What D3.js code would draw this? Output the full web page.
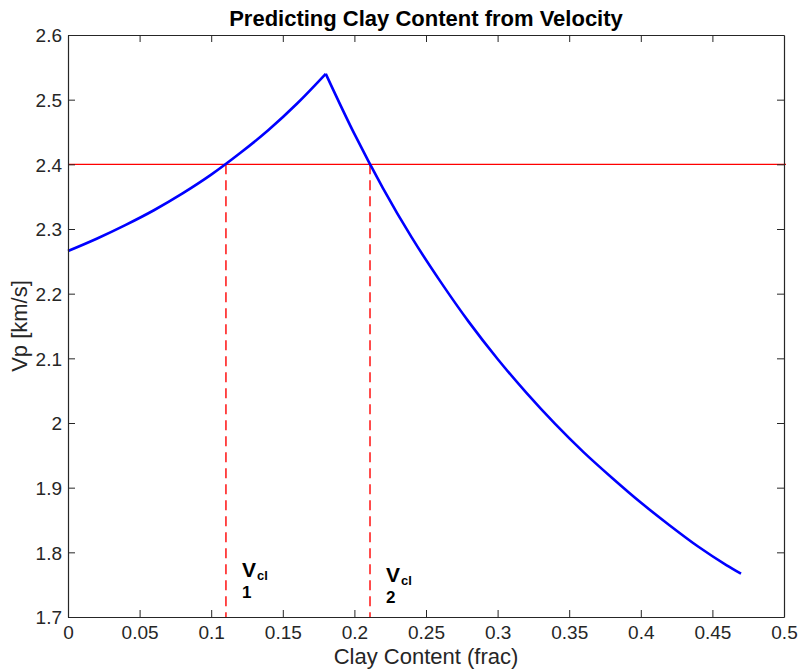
<!DOCTYPE html>
<html>
<head>
<meta charset="utf-8">
<script src="https://cdn.jsdelivr.net/npm/d3@7"></script>
<style>
  html, body { margin: 0; padding: 0; background: #fff; }
  svg { display: block; }
  text { font-family: "Liberation Sans", Arial, Helvetica, sans-serif; }
</style>
</head>
<body>
<svg id="chart" width="802" height="670"></svg>
<script>
// ---- data ----
const clayLeft = [0, 0.02, 0.04, 0.06, 0.08, 0.10, 0.12, 0.14, 0.16, 0.18];
const vpLeft   = [2.266, 2.285, 2.306, 2.329, 2.355, 2.384, 2.417, 2.453, 2.494, 2.540];
const clayRight = [0.18, 0.20, 0.22, 0.24, 0.26, 0.28, 0.30, 0.32, 0.34, 0.36, 0.38, 0.40, 0.42, 0.44, 0.46, 0.47];
const vpRight   = [2.540, 2.447, 2.363, 2.287, 2.219, 2.156, 2.099, 2.047, 1.999, 1.955, 1.915, 1.877, 1.842, 1.809, 1.780, 1.767];
const vpTarget = 2.4;
const vclValues = [0.1103, 0.2109];
const vclLabels = ["1", "2"];
const xTicks = [0, 0.05, 0.1, 0.15, 0.2, 0.25, 0.3, 0.35, 0.4, 0.45, 0.5];
const xTickLabels = ["0", "0.05", "0.1", "0.15", "0.2", "0.25", "0.3", "0.35", "0.4", "0.45", "0.5"];
const yTicks = [1.7, 1.8, 1.9, 2.0, 2.1, 2.2, 2.3, 2.4, 2.5, 2.6];
const yTickLabels = ["1.7", "1.8", "1.9", "2", "2.1", "2.2", "2.3", "2.4", "2.5", "2.6"];
const titleText = "Predicting Clay Content from Velocity";
const xLabelText = "Clay Content (frac)";
const yLabelText = "Vp [km/s]";

// ---- layout ----
const L = 68, R = 784, T = 35, B = 617;
const svg = d3.select("#chart");
const x = d3.scaleLinear().domain([0, 0.5]).range([L, R]);
const y = d3.scaleLinear().domain([1.7, 2.6]).range([B, T]);
const axisColor = "#262626";
const tickLen = 7;

// red horizontal line
svg.append("line")
  .attr("x1", x(0)).attr("x2", x(0.5) + 2)
  .attr("y1", y(vpTarget)).attr("y2", y(vpTarget))
  .attr("stroke", "#ff0000").attr("stroke-width", 1.4);

// dashed verticals
svg.selectAll("line.vcl").data(vclValues).enter().append("line")
  .attr("class", "vcl")
  .attr("x1", d => x(d)).attr("x2", d => x(d))
  .attr("y1", y(vpTarget)).attr("y2", y(1.7))
  .attr("stroke", "#ff0000").attr("stroke-width", 1.4)
  .attr("stroke-dasharray", "10,6");

// curve
const lineCurve = d3.line().x(d => x(d[0])).y(d => y(d[1])).curve(d3.curveMonotoneX);
const leftPts = clayLeft.map((c, i) => [c, vpLeft[i]]);
const rightPts = clayRight.map((c, i) => [c, vpRight[i]]);
[leftPts, rightPts].forEach(p => {
  svg.append("path").attr("d", lineCurve(p))
    .attr("fill", "none").attr("stroke", "#0000ff").attr("stroke-width", 2.6);
});

// axes (ticks inward, box)
const gB = svg.append("g").attr("transform", `translate(0,${B})`)
  .call(d3.axisBottom(x).tickValues(xTicks).tickSizeInner(-tickLen).tickSizeOuter(0)
    .tickFormat((d, i) => xTickLabels[i]));
const gT = svg.append("g").attr("transform", `translate(0,${T})`)
  .call(d3.axisTop(x).tickValues(xTicks).tickSizeInner(-tickLen).tickSizeOuter(0).tickFormat(""));
const gL = svg.append("g").attr("transform", `translate(${L},0)`)
  .call(d3.axisLeft(y).tickValues(yTicks).tickSizeInner(-tickLen).tickSizeOuter(0)
    .tickFormat((d, i) => yTickLabels[i]));
const gR = svg.append("g").attr("transform", `translate(${R},0)`)
  .call(d3.axisRight(y).tickValues(yTicks).tickSizeInner(-tickLen).tickSizeOuter(0).tickFormat(""));

[gB, gT, gL, gR].forEach(g => {
  g.select(".domain").attr("stroke", axisColor).attr("stroke-width", 1.2);
  g.selectAll(".tick line").attr("stroke", axisColor).attr("stroke-width", 1);
  g.selectAll(".tick text").attr("fill", axisColor)
    .style("font-family", "'Liberation Sans', Arial, sans-serif").style("font-size", "19px");
});
gB.selectAll(".tick text").attr("y", 9).attr("dy", "0.71em");
gL.selectAll(".tick text").attr("x", -6).attr("dy", "0.36em");
gT.selectAll(".tick").filter(d => d === 0 || d === 0.5).remove();
gR.selectAll(".tick").filter(d => d === 1.7 || d === 2.6).remove();

// title and axis labels
svg.append("text").attr("x", (L + R) / 2).attr("y", 26)
  .attr("text-anchor", "middle").attr("font-weight", "bold").attr("font-size", 22)
  .attr("fill", "#000").text(titleText);
svg.append("text").attr("x", (L + R) / 2).attr("y", 664)
  .attr("text-anchor", "middle").attr("font-size", 22)
  .attr("fill", axisColor).text(xLabelText);
svg.append("text")
  .attr("transform", `translate(27,${(T + B) / 2}) rotate(-90)`)
  .attr("text-anchor", "middle").attr("font-size", 22)
  .attr("fill", axisColor).text(yLabelText);

// V_cl annotations
const annY = [577, 582];
vclValues.forEach((v, i) => {
  const tx = x(v) + 16;
  const t = svg.append("text").attr("x", tx).attr("y", annY[i])
    .attr("font-weight", "bold").attr("fill", "#000");
  t.append("tspan").attr("font-size", 21).text("V");
  t.append("tspan").attr("font-size", 13).attr("dx", 1).attr("dy", 3).text("cl");
  svg.append("text").attr("x", tx).attr("y", annY[i] + 21)
    .attr("font-weight", "bold").attr("font-size", 17).attr("fill", "#000")
    .text(vclLabels[i]);
});
</script>
</body>
</html>
